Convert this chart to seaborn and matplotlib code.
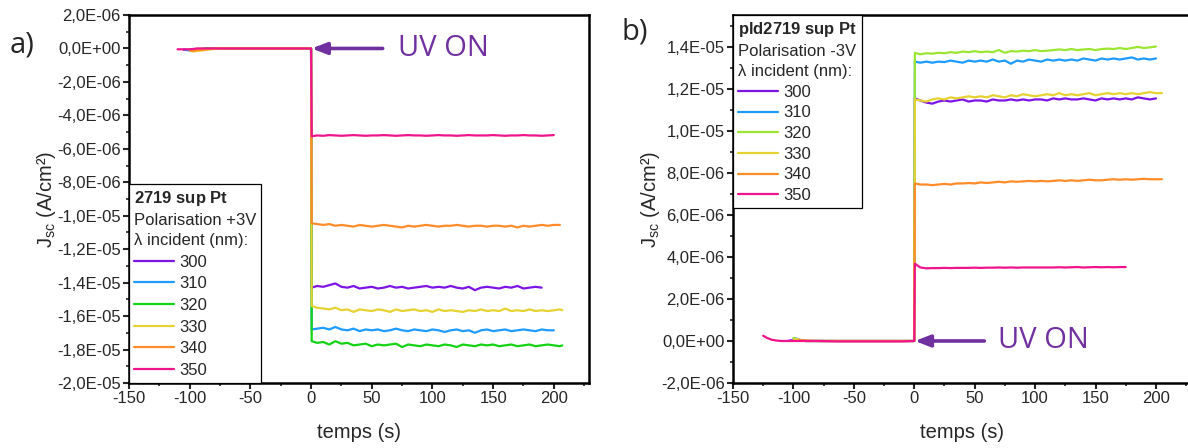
import numpy as np
import pandas as pd
import matplotlib
matplotlib.use("Agg")
import matplotlib.pyplot as plt
from matplotlib.lines import Line2D
from matplotlib.ticker import MultipleLocator, FuncFormatter
import seaborn as sns

nan = np.nan

# longueurs d'onde (nm)
wavelengths = ["300", "310", "320", "330", "340", "350"]
colors_a = ["#7D14E6", "#1E9BFF", "#14D214", "#E6D232", "#FF8C28", "#F0148C"]
colors_b = ["#7D14E6", "#1E9BFF", "#9BE632", "#E6D232", "#FF8C28", "#F0148C"]

# temps (s) apres allumage UV, commun aux deux panneaux
t_post = [0.5, 5, 10, 15, 20, 25, 30, 35, 40, 45, 50, 55, 60, 65, 70, 75, 80, 85,
          90, 95, 100, 105, 110, 115, 120, 125, 130, 135, 140, 145, 150, 155, 160,
          165, 170, 175, 180, 185, 190, 195, 200, 205, 207]

# ---- a) 2719 sup Pt, +3V  (Jsc en 1E-06 A/cm2)
t_pre_a = [-110, -105, -100, -97, -94, -90, -86, -82, -75, -60, -40, -20, 0]
pre_a = {
    "300": [nan, -0.08, -0.1, -0.05, -0.1, -0.05, -0.02, 0, 0, 0, 0, 0, 0],
    "310": [nan, -0.05, -0.12, -0.08, -0.02, -0.06, 0, 0, 0, 0, 0, 0, 0],
    "320": [nan, nan, -0.05, -0.1, -0.06, -0.02, 0, 0, 0, 0, 0, 0, 0],
    "330": [nan, nan, -0.12, -0.18, -0.15, -0.12, -0.08, -0.05, 0, 0, 0, 0, 0],
    "340": [nan, nan, -0.1, -0.15, -0.1, -0.08, -0.05, 0, 0, 0, 0, 0, 0],
    "350": [-0.05, -0.05, -0.05, -0.03, 0, 0, 0, 0, 0, 0, 0, 0, 0],
}
post_a = {
    "300": [-14.3, -14.2, -14.25, -14.15, -14.05, -14.25, -14.3, -14.2, -14.35, -14.3,
            -14.25, -14.35, -14.3, -14.2, -14.3, -14.25, -14.35, -14.3, -14.25, -14.2,
            -14.3, -14.25, -14.3, -14.2, -14.3, -14.35, -14.25, -14.45, -14.3, -14.25,
            -14.3, -14.35, -14.25, -14.3, -14.2, -14.35, -14.3, -14.25, -14.3],
    "310": [-16.8, -16.75, -16.7, -16.8, -16.65, -16.8, -16.85, -16.75, -16.9, -16.8,
            -16.85, -16.8, -16.9, -16.85, -16.75, -16.85, -16.9, -16.8, -16.85, -16.9,
            -16.8, -16.85, -16.95, -16.85, -16.8, -16.9, -16.85, -17.0, -16.85, -16.8,
            -16.9, -16.85, -16.8, -16.9, -16.85, -16.8, -16.85, -16.9, -16.8, -16.85,
            -16.85],
    "320": [-17.5, -17.6, -17.55, -17.7, -17.5, -17.65, -17.6, -17.75, -17.7, -17.65,
            -17.8, -17.7, -17.75, -17.7, -17.65, -17.85, -17.7, -17.75, -17.8, -17.7,
            -17.75, -17.8, -17.7, -17.75, -17.85, -17.7, -17.75, -17.8, -17.7, -17.75,
            -17.7, -17.8, -17.75, -17.7, -17.8, -17.75, -17.7, -17.8, -17.75, -17.7,
            -17.75, -17.8, -17.75],
    "330": [-15.4, -15.5, -15.55, -15.6, -15.5, -15.65, -15.6, -15.75, -15.6, -15.65,
            -15.7, -15.6, -15.65, -15.75, -15.6, -15.7, -15.65, -15.6, -15.7, -15.65,
            -15.75, -15.6, -15.7, -15.65, -15.7, -15.75, -15.65, -15.7, -15.6, -15.7,
            -15.65, -15.7, -15.55, -15.7, -15.65, -15.7, -15.6, -15.7, -15.65, -15.7,
            -15.65, -15.6, -15.65],
    "340": [-10.45, -10.5, -10.55, -10.5, -10.6, -10.55, -10.6, -10.65, -10.55, -10.6,
            -10.65, -10.6, -10.55, -10.6, -10.65, -10.7, -10.6, -10.65, -10.6, -10.55,
            -10.6, -10.65, -10.6, -10.6, -10.55, -10.6, -10.65, -10.6, -10.6, -10.65,
            -10.6, -10.6, -10.65, -10.6, -10.7, -10.6, -10.65, -10.6, -10.55, -10.6,
            -10.55, -10.55],
    "350": [-5.25, -5.2, -5.22, -5.18, -5.2, -5.22, -5.2, -5.18, -5.2, -5.22,
            -5.2, -5.2, -5.18, -5.2, -5.22, -5.2, -5.18, -5.2, -5.2, -5.22,
            -5.2, -5.18, -5.2, -5.2, -5.22, -5.2, -5.18, -5.2, -5.2, -5.2,
            -5.18, -5.2, -5.22, -5.2, -5.2, -5.18, -5.2, -5.2, -5.22, -5.2, -5.18],
}

# ---- b) pld2719 sup Pt, -3V
t_pre_b = [-125, -122, -118, -114, -110, -105, -100, -98, -95, -90, -80, -65, -50, -30, -10, 0]
pre_b = {
    "300": [nan, nan, nan, nan, nan, 0, 0.05, 0.1, 0.05, 0, 0, 0, 0, 0, 0, 0],
    "310": [nan, nan, nan, nan, nan, nan, 0.1, 0.12, 0.05, 0, 0, 0, 0, 0, 0, 0],
    "320": [nan, nan, nan, nan, nan, nan, 0.15, 0.1, 0.05, 0, 0, 0, 0, 0, 0, 0],
    "330": [nan, nan, nan, nan, nan, nan, 0.05, 0.1, 0.05, 0, 0, 0, 0, 0, 0, 0],
    "340": [nan, nan, nan, nan, nan, nan, nan, nan, 0.05, 0.02, 0, 0, 0, 0, 0, 0],
    "350": [0.25, 0.15, 0.06, 0.02, 0, 0, 0, 0, 0, 0, 0, -0.02, -0.02, -0.02, -0.02, 0],
}
post_b = {
    "300": [11.55, 11.45, 11.35, 11.3, 11.4, 11.45, 11.4, 11.45, 11.5, 11.4,
            11.45, 11.45, 11.4, 11.5, 11.45, 11.45, 11.5, 11.45, 11.5, 11.45,
            11.5, 11.5, 11.45, 11.55, 11.5, 11.55, 11.5, 11.5, 11.55, 11.5,
            11.45, 11.55, 11.5, 11.55, 11.5, 11.55, 11.5, 11.6, 11.55, 11.5, 11.55],
    "310": [13.3, 13.25, 13.3, 13.25, 13.3, 13.28, 13.35, 13.3, 13.25, 13.35,
            13.3, 13.35, 13.3, 13.4, 13.3, 13.35, 13.2, 13.35, 13.3, 13.4,
            13.35, 13.3, 13.4, 13.35, 13.4, 13.35, 13.4, 13.35, 13.45, 13.4,
            13.35, 13.45, 13.4, 13.45, 13.4, 13.45, 13.5, 13.4, 13.45, 13.4, 13.45],
    "320": [13.72, 13.65, 13.7, 13.68, 13.72, 13.7, 13.75, 13.72, 13.78, 13.75,
            13.8, 13.75, 13.78, 13.75, 13.85, 13.72, 13.8, 13.78, 13.82, 13.8,
            13.85, 13.8, 13.82, 13.85, 13.88, 13.85, 13.9, 13.85, 13.88, 13.9,
            13.85, 13.9, 13.92, 13.9, 13.95, 13.9, 13.95, 14.0, 13.95, 13.98, 14.02],
    "330": [11.5, 11.45, 11.4, 11.5, 11.55, 11.5, 11.6, 11.55, 11.6, 11.65,
            11.6, 11.65, 11.6, 11.7, 11.65, 11.6, 11.7, 11.65, 11.75, 11.7,
            11.65, 11.7, 11.75, 11.7, 11.8, 11.7, 11.75, 11.7, 11.75, 11.8,
            11.7, 11.75, 11.8, 11.75, 11.8, 11.75, 11.8, 11.75, 11.8, 11.85, 11.8, 11.8],
    "340": [7.5, 7.45, 7.45, 7.42, 7.45, 7.48, 7.45, 7.5, 7.5, 7.52,
            7.5, 7.55, 7.52, 7.55, 7.58, 7.55, 7.6, 7.58, 7.6, 7.62,
            7.6, 7.62, 7.6, 7.62, 7.65, 7.62, 7.65, 7.62, 7.65, 7.68,
            7.65, 7.65, 7.68, 7.7, 7.68, 7.7, 7.68, 7.7, 7.72, 7.7, 7.7, 7.7],
    "350": [3.68, 3.5, 3.46, 3.47, 3.47, 3.48, 3.47, 3.48, 3.48, 3.48,
            3.49, 3.48, 3.49, 3.49, 3.5, 3.49, 3.5, 3.49, 3.5, 3.5,
            3.5, 3.5, 3.5, 3.5, 3.51, 3.5, 3.51, 3.52, 3.5, 3.51,
            3.52, 3.51, 3.52, 3.51, 3.52, 3.52],
}


def build_df(t_pre, pre, post):
    rows = []
    for wl in wavelengths:
        for t, j in zip(t_pre, pre[wl]):
            if not np.isnan(j):
                rows.append((wl, t, j * 1e-6))
        for t, j in zip(t_post, post[wl]):
            rows.append((wl, t, j * 1e-6))
    return pd.DataFrame(rows, columns=["lambda", "temps", "Jsc"])


df_a = build_df(t_pre_a, pre_a, post_a)
df_b = build_df(t_pre_b, pre_b, post_b)

sns.set_style("white")
plt.rcParams["font.family"] = ["Liberation Sans", "DejaVu Sans"]
plt.rcParams["axes.unicode_minus"] = False
plt.rcParams["mathtext.fontset"] = "custom"
plt.rcParams["mathtext.rm"] = "Liberation Sans"
plt.rcParams["mathtext.bf"] = "Liberation Sans:bold"

fig = plt.figure(figsize=(11.88, 4.48), dpi=100)
ax_a = fig.add_axes([0.1086, 0.1451, 0.3872, 0.8214])
ax_b = fig.add_axes([0.6170, 0.1451, 0.3855, 0.8214])

purple = "#7030A0"
fmt = FuncFormatter(lambda v, p: ("%.1E" % v).replace(".", ","))


def draw(ax, df, colors, ylim, major, title, leg_loc, arrow_tail, text_x, lspace):
    sns.lineplot(data=df, x="temps", y="Jsc", hue="lambda", hue_order=wavelengths,
                 palette=dict(zip(wavelengths, colors)), estimator=None, sort=False,
                 linewidth=1.6, legend=False, ax=ax)
    ax.set_xlim(-150, 229)
    ax.set_ylim(*ylim)
    ax.xaxis.set_major_locator(MultipleLocator(50))
    ax.xaxis.set_minor_locator(MultipleLocator(25))
    ax.yaxis.set_major_locator(MultipleLocator(major))
    ax.yaxis.set_minor_locator(MultipleLocator(major / 2))
    ax.yaxis.set_major_formatter(fmt)
    ax.tick_params(which="major", direction="out", length=4, width=1.5, labelsize=12,
                   bottom=True, left=True, pad=2)
    ax.tick_params(which="minor", direction="out", length=2.5, width=1.2, bottom=True, left=True)
    for s in ax.spines.values():
        s.set_linewidth(1.8)
        s.set_color("black")
    ax.set_xlabel("temps (s)", fontsize=14.5, labelpad=12)
    ax.set_ylabel(r"J$_{\mathrm{sc}}$ (A/cm²)", fontsize=14.5, labelpad=-1)

    handles = [Line2D([], [], color=c, lw=1.6) for c in colors]
    leg = ax.legend(handles, wavelengths, title=title, loc=leg_loc,
                    bbox_to_anchor=(0, 0) if leg_loc == "lower left" else (0, 1),
                    borderaxespad=0, fontsize=12, title_fontsize=12, alignment="left",
                    frameon=True, fancybox=False, framealpha=1, edgecolor="black",
                    handlelength=2.4, handletextpad=0.3, labelspacing=lspace,
                    borderpad=0.3)
    leg.get_frame().set_linewidth(0.9)
    leg.get_title().set_linespacing(1.42)

    ax.annotate("", xy=(0.5, 0), xytext=(arrow_tail, 0),
                arrowprops=dict(arrowstyle="-|>,head_length=0.9,head_width=0.35",
                                color=purple, lw=2.6, shrinkA=0, shrinkB=0))
    ax.text(text_x, 0, "UV ON", color=purple, fontsize=21, family="Open Sans",
            va="center", ha="left")


draw(ax_a, df_a, colors_a, (-2e-5, 2e-6), 2e-6,
     "$\\mathbf{2719}$ $\\mathbf{sup}$ $\\mathbf{Pt}$\nPolarisation +3V\nλ incident (nm):",
     "lower left", 59, 72, 0.4)
draw(ax_b, df_b, colors_b, (-2e-6, 1.552e-5), 2e-6,
     "$\\mathbf{pld2719}$ $\\mathbf{sup}$ $\\mathbf{Pt}$\nPolarisation -3V\nλ incident (nm):",
     "upper left", 58, 69, 0.34)

fig.text(0.008, 0.9, "a)", fontsize=21, family="Open Sans", va="center")
fig.text(0.523, 0.928, "b)", fontsize=21, family="Open Sans", va="center")

plt.savefig("out.png", dpi=100)
plt.close()
